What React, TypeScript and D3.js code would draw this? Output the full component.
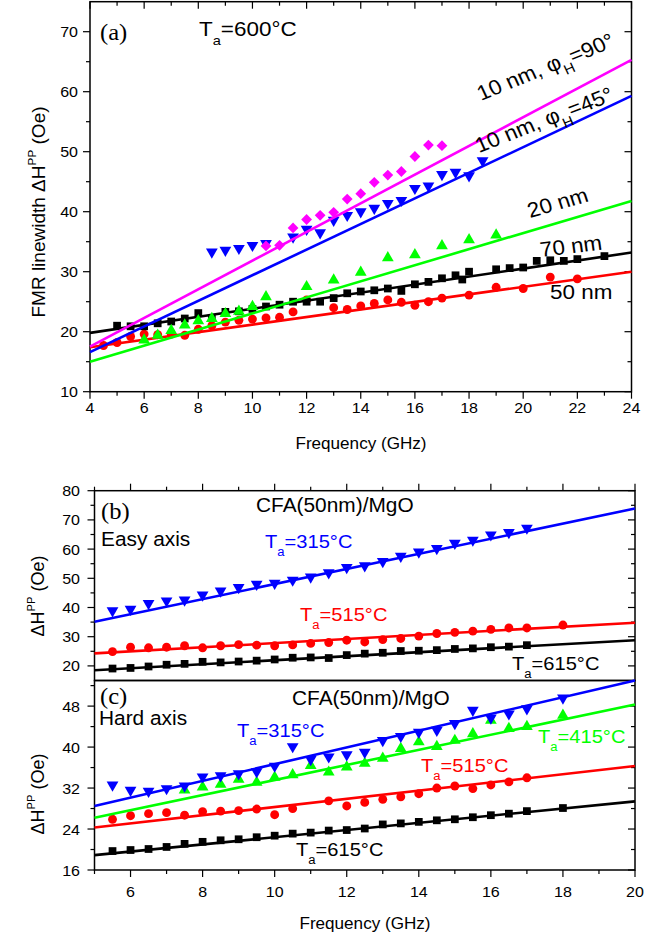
import React from 'react';
import * as d3 from 'd3';

const SANS = '"Liberation Sans", Arial, Helvetica, sans-serif';
const SERIF = '"Liberation Serif", "Times New Roman", serif';
const SX = 1.07;

// ---------- Panel (a) data ----------
const aFreq70 = [5, 5.5, 6, 6.5, 7, 7.5, 8, 8.5, 9, 9.5, 10, 10.5, 11, 11.5, 12, 12.5, 13, 13.5, 14, 14.5, 15, 15.5, 16, 16.5, 17, 17.5, 17.75, 18, 19, 19.5, 20, 20.5, 21, 21.5, 22, 23];
const aVal70 = [21.0, 20.9, 20.9, 21.4, 21.7, 22.2, 23.1, 22.3, 23.3, 23.4, 23.8, 24.2, 24.5, 25.0, 25.0, 25.0, 25.6, 26.4, 26.7, 26.9, 27.2, 26.8, 27.9, 28.3, 28.9, 29.4, 28.7, 30.0, 30.4, 30.6, 30.7, 31.8, 31.9, 31.8, 32.1, 32.6];
const aFreq50 = [4.5, 5, 5.5, 6, 6.5, 7, 7.5, 8, 8.5, 9, 9.5, 10, 10.5, 11, 11.5, 12, 13, 13.5, 14, 14.5, 15, 15.5, 16, 16.5, 17, 18, 19, 20, 21, 22];
const aVal50 = [17.7, 18.2, 19.2, 19.6, 19.5, 19.6, 19.4, 20.4, 21.0, 21.6, 21.9, 22.1, 22.3, 22.4, 23.3, 25.3, 24.0, 23.7, 24.3, 24.7, 25.3, 24.9, 24.4, 25.0, 25.6, 26.1, 27.4, 27.2, 29.1, 28.8];
const aFreq20 = [6, 6.5, 7, 7.5, 8, 8.5, 9, 9.5, 10, 10.5, 12, 13, 14, 15, 16, 17, 18, 19];
const aVal20 = [18.6, 19.4, 20.2, 21.1, 21.8, 22.2, 23.0, 23.4, 24.2, 25.8, 27.5, 28.6, 29.9, 32.3, 32.8, 34.3, 35.3, 36.1];
const aFreq45 = [8.5, 9, 9.5, 10, 10.5, 11.5, 12, 12.5, 13, 13.5, 14, 14.5, 15, 15.5, 16, 16.5, 17, 17.5, 18, 18.5];
const aVal45 = [33.3, 33.6, 33.9, 34.4, 34.7, 35.8, 37.1, 36.5, 38.6, 39.4, 40.0, 40.6, 41.4, 41.9, 43.9, 44.3, 46.2, 46.6, 46.0, 48.5];
const aFreq90 = [10.5, 11, 11.5, 12, 12.5, 13, 13.5, 14, 14.5, 15, 15.5, 16, 16.5, 17];
const aVal90 = [34.3, 34.4, 37.3, 38.7, 39.4, 39.9, 42.1, 43.0, 44.9, 46.1, 46.7, 49.2, 51.1, 51.0];
const aFitRange = [4, 24];
const aFit90 = [17.5, 65.3];
const aFit45 = [16.6, 59.3];
const aFit20 = [15.0, 41.8];
const aFit70 = [19.8, 33.2];
const aFit50 = [17.4, 30.0];
const aXTicks = [4, 6, 8, 10, 12, 14, 16, 18, 20, 22, 24];
const aXMinor = [5, 7, 9, 11, 13, 15, 17, 19, 21, 23];
const aYTicks = [10, 20, 30, 40, 50, 60, 70];
const aYMinor = [15, 25, 35, 45, 55, 65];

// ---------- Panel (b) data ----------
const bFreqBlue = [5.5, 6, 6.5, 7, 7.5, 8, 8.5, 9, 9.5, 10, 10.5, 11, 11.5, 12, 12.5, 13, 13.5, 14, 14.5, 15, 15.5, 16, 16.5, 17];
const bValBlue = [38.9, 39.4, 41.4, 42.3, 42.6, 44.3, 45.7, 46.9, 48.0, 48.3, 49.4, 50.5, 51.9, 53.7, 54.3, 55.8, 57.6, 59.0, 60.2, 62.0, 63.1, 64.9, 65.7, 67.2];
const bFreqRed = [5.5, 6, 6.5, 7, 7.5, 8, 8.5, 9, 9.5, 10, 10.5, 11, 11.5, 12, 12.5, 13, 13.5, 14, 14.5, 15, 15.5, 16, 16.5, 17, 18];
const bValRed = [24.9, 26.4, 26.2, 26.4, 26.9, 26.2, 26.9, 27.3, 27.1, 26.9, 27.2, 27.7, 28.0, 28.8, 28.2, 29.0, 29.4, 30.2, 31.1, 31.5, 31.9, 32.5, 33.0, 33.0, 34.0];
const bFreqBlack = [5.5, 6, 6.5, 7, 7.5, 8, 8.5, 9, 9.5, 10, 10.5, 11, 11.5, 12, 12.5, 13, 13.5, 14, 14.5, 15, 15.5, 16, 16.5, 17];
const bValBlack = [19.1, 19.3, 19.8, 20.4, 20.7, 21.4, 21.2, 21.5, 21.8, 22.2, 22.8, 22.9, 22.7, 23.7, 24.2, 24.5, 25.1, 25.2, 25.4, 25.8, 26.0, 26.4, 26.6, 27.1];
const bcFitRange = [5, 20];
const bFitBlue = [35.1, 73.9];
const bFitRed = [24.3, 34.8];
const bFitBlack = [18.5, 28.8];
const bYTicks = [20, 30, 40, 50, 60, 70, 80];
const bYMinor = [25, 35, 45, 55, 65, 75];

// ---------- Panel (c) data ----------
const cFreqBlue = [5.5, 6, 6.5, 7, 7.5, 8, 8.5, 9, 9.5, 10, 10.5, 11, 11.5, 12, 12.5, 13, 13.5, 14, 14.5, 15, 15.5, 16, 16.5, 17, 18];
const cValBlue = [32.6, 31.6, 31.4, 31.9, 32.4, 34.2, 34.4, 34.8, 35.2, 36.3, 40.1, 37.6, 38.1, 38.5, 39.0, 41.3, 42.1, 42.9, 43.3, 44.6, 47.2, 45.7, 46.5, 47.5, 49.6];
const cFreqGreen = [7.5, 8, 8.5, 9, 9.5, 10, 10.5, 11, 11.5, 12, 12.5, 13, 13.5, 14, 14.5, 15, 15.5, 16, 16.5, 17, 18];
const cValGreen = [31.6, 32.2, 32.7, 33.7, 33.1, 34.1, 34.6, 36.4, 35.1, 36.1, 36.8, 37.8, 39.7, 41.0, 40.1, 41.3, 42.6, 45.2, 43.6, 44.0, 46.2];
const cFreqRed = [5.5, 6, 6.5, 7, 7.5, 8, 8.5, 9, 9.5, 10, 10.5, 11.5, 12, 12.5, 13, 13.5, 14, 14.5, 15, 15.5, 16, 16.5, 17];
const cValRed = [25.9, 26.6, 27.0, 27.2, 26.7, 27.4, 27.5, 27.6, 27.9, 26.8, 28.0, 29.5, 28.5, 29.2, 29.8, 30.3, 30.9, 32.0, 32.4, 31.9, 32.6, 33.2, 34.0];
const cFreqBlack = [5.5, 6, 6.5, 7, 7.5, 8, 8.5, 9, 9.5, 10, 10.5, 11, 11.5, 12, 12.5, 13, 13.5, 14, 14.5, 15, 15.5, 16, 16.5, 17, 18];
const cValBlack = [19.7, 19.9, 20.1, 20.5, 21.1, 21.5, 21.8, 22.0, 22.4, 22.7, 23.1, 23.3, 23.7, 23.8, 24.1, 24.9, 25.1, 25.4, 25.7, 25.9, 26.3, 26.7, 27.0, 27.5, 28.1];
const cFitBlue = [28.5, 53.0];
const cFitGreen = [26.2, 48.3];
const cFitRed = [24.3, 36.3];
const cFitBlack = [18.9, 29.4];
const cYTicks = [16, 24, 32, 40, 48];
const cYMinor = [20, 28, 36, 44, 52];
const bcXTicks = [6, 8, 10, 12, 14, 16, 18, 20];
const bcXMinor = [5, 7, 9, 11, 13, 15, 17, 19];

const BLACK = '#000000';
const RED = '#ff0000';
const GREEN = '#00ff00';
const BLUE = '#0000ff';
const MAGENTA = '#ff00ff';

// ---------- scales ----------
const xA = d3.scaleLinear().domain([4, 24]).range([90, 631.5]);
const yA = d3.scaleLinear().domain([10, 75]).range([391.7, 1.7]);
const xBC = d3.scaleLinear().domain([5, 20]).range([94.5, 635]);
const yB = d3.scaleLinear().domain([15, 80]).range([680.5, 490.7]);
const yC = d3.scaleLinear().domain([16, 53]).range([870, 680.5]);

const symPath: Record<string, string> = {
  square: d3.symbol().type(d3.symbolSquare).size(60)() as string,
  circle: d3.symbol().type(d3.symbolCircle).size(62)() as string,
  triUp: d3.symbol().type(d3.symbolTriangle).size(60)() as string,
  triDown: d3.symbol().type(d3.symbolTriangle).size(60)() as string,
  diamond: d3.symbol().type(d3.symbolSquare).size(58)() as string,
};
const symRot: Record<string, string> = { triDown: ' rotate(180)', diamond: ' rotate(45)' };

const MAJ = 7;
const MIN = 4;

function Txt(props: any) {
  const { x, y, size, fill = BLACK, anchor = 'start', rot = 0, family = SANS, sx = SX, children } = props;
  const r = rot ? (Math.atan(Math.tan((rot * Math.PI) / 180) / sx) * 180) / Math.PI : 0;
  return (
    <text
      transform={`translate(${x},${y}) scale(${sx},1)${r ? ` rotate(${r})` : ''}`}
      fontSize={size}
      fill={fill}
      textAnchor={anchor}
      fontFamily={family}
    >
      {children}
    </text>
  );
}

function TaLabel({ x, y, size, fill, temp }: any) {
  return (
    <Txt x={x} y={y} size={size} fill={fill}>
      T
      <tspan fontSize={size * 0.65} dy={size * 0.42}>a</tspan>
      <tspan dy={-size * 0.42}>={temp}°C</tspan>
    </Txt>
  );
}

function Series({ f, v, xs, ys, shape, color, fit, fitRange }: any) {
  const line = d3.line<number[]>().x((d) => xs(d[0])).y((d) => ys(d[1]));
  const fitPts = [
    [fitRange[0], fit[0]],
    [fitRange[1], fit[1]],
  ];
  return (
    <g>
      <path d={line(fitPts) as string} stroke={color} strokeWidth={2.6} fill="none" />
      {f.map((fr: number, i: number) => (
        <path
          key={i}
          d={symPath[shape]}
          transform={`translate(${xs(fr)},${ys(v[i])})${symRot[shape] || ''}`}
          fill={color}
        />
      ))}
    </g>
  );
}

function Frame({ xs, ys, xMaj, xMin, yMaj, yMin, bottomOut, topOut, topIn, xLabels, yLabels, xLabelY, yLabelX }: any) {
  const [x0, x1] = xs.range();
  const [y0, y1] = ys.range();
  const els: any[] = [];
  const tick = (key: string, a: number, b: number, c: number, d: number) =>
    els.push(<line key={key} x1={a} y1={b} x2={c} y2={d} stroke={BLACK} strokeWidth={1.2} />);
  xMaj.forEach((t: number) => {
    const x = xs(t);
    if (bottomOut) tick('bM' + t, x, y0, x, y0 + MAJ);
    if (topOut) tick('tM' + t, x, y1, x, y1 - MAJ);
    if (topIn) tick('tI' + t, x, y1, x, y1 + MAJ);
  });
  xMin.forEach((t: number) => {
    const x = xs(t);
    if (bottomOut) tick('bm' + t, x, y0, x, y0 + MIN);
    if (topOut) tick('tm' + t, x, y1, x, y1 - MIN);
    if (topIn) tick('ti' + t, x, y1, x, y1 + MIN);
  });
  yMaj.forEach((t: number) => {
    const y = ys(t);
    tick('lM' + t, x0, y, x0 - MAJ, y);
    tick('rM' + t, x1, y, x1 - MAJ, y);
  });
  yMin.forEach((t: number) => {
    const y = ys(t);
    tick('lm' + t, x0, y, x0 - MIN, y);
    tick('rm' + t, x1, y, x1 - MIN, y);
  });
  return (
    <g>
      <rect x={x0} y={y1} width={x1 - x0} height={y0 - y1} fill="none" stroke={BLACK} strokeWidth={1.5} />
      {els}
      {xLabels &&
        xMaj.map((t: number) => (
          <Txt key={'xl' + t} x={xs(t)} y={xLabelY} size={15} anchor="middle">
            {t}
          </Txt>
        ))}
      {yLabels &&
        yMaj.map((t: number) => (
          <Txt key={'yl' + t} x={yLabelX} y={ys(t) + 5.5} size={15} anchor="end">
            {t}
          </Txt>
        ))}
    </g>
  );
}

function DeltaH({ x, y, size, prefix }: any) {
  return (
    <text transform={`translate(${x},${y}) rotate(-90)`} fontSize={size} fontFamily={SANS} textAnchor="middle" fill={BLACK}>
      {prefix}ΔH
      <tspan fontSize={size * 0.62} dy={-size * 0.5}>PP</tspan>
      <tspan dy={size * 0.5}> (Oe)</tspan>
    </text>
  );
}

export default function App() {
  return (
    <svg width={662} height={940} style={{ position: 'absolute', left: 0, top: 0, background: '#fff' }}>
      <rect x={0} y={0} width={662} height={940} fill="#fff" />
      {/* ---------------- Panel (a) ---------------- */}
      <Frame xs={xA} ys={yA} xMaj={aXTicks} xMin={aXMinor} yMaj={aYTicks} yMin={aYMinor} bottomOut topIn xLabels yLabels xLabelY={413} yLabelX={78} />
      <Series f={aFreq50} v={aVal50} xs={xA} ys={yA} shape="circle" color={RED} fit={aFit50} fitRange={aFitRange} />
      <Series f={aFreq70} v={aVal70} xs={xA} ys={yA} shape="square" color={BLACK} fit={aFit70} fitRange={aFitRange} />
      <Series f={aFreq20} v={aVal20} xs={xA} ys={yA} shape="triUp" color={GREEN} fit={aFit20} fitRange={aFitRange} />
      <Series f={aFreq45} v={aVal45} xs={xA} ys={yA} shape="triDown" color={BLUE} fit={aFit45} fitRange={aFitRange} />
      <Series f={aFreq90} v={aVal90} xs={xA} ys={yA} shape="diamond" color={MAGENTA} fit={aFit90} fitRange={aFitRange} />
      <Txt x={100} y={40} size={23} family={SERIF}>(a)</Txt>
      <TaLabel x={199} y={36} size={21} fill={BLACK} temp={600} />
      <Txt x={481} y={101} size={21} rot={-25}>
        10 nm, φ<tspan fontSize={14} dy={8}>H</tspan>
        <tspan dy={-8}>=90°</tspan>
      </Txt>
      <Txt x={479} y={153} size={21} rot={-24}>
        10 nm, φ<tspan fontSize={14} dy={8}>H</tspan>
        <tspan dy={-8}>=45°</tspan>
      </Txt>
      <Txt x={530} y={218} size={21} rot={-18}>20 nm</Txt>
      <Txt x={541} y={257} size={21} rot={-8}>70 nm</Txt>
      <Txt x={550} y={299} size={21}>50 nm</Txt>
      <Txt x={361} y={449} size={16} anchor="middle">Frequency (GHz)</Txt>
      <DeltaH x={45} y={212} size={19} prefix="FMR linewidth " />

      {/* ---------------- Panel (b) ---------------- */}
      <Frame xs={xBC} ys={yB} xMaj={bcXTicks} xMin={bcXMinor} yMaj={bYTicks} yMin={bYMinor} topOut yLabels yLabelX={80} />
      <Series f={bFreqBlack} v={bValBlack} xs={xBC} ys={yB} shape="square" color={BLACK} fit={bFitBlack} fitRange={bcFitRange} />
      <Series f={bFreqRed} v={bValRed} xs={xBC} ys={yB} shape="circle" color={RED} fit={bFitRed} fitRange={bcFitRange} />
      <Series f={bFreqBlue} v={bValBlue} xs={xBC} ys={yB} shape="triDown" color={BLUE} fit={bFitBlue} fitRange={bcFitRange} />
      <Txt x={101} y={519} size={23} family={SERIF}>(b)</Txt>
      <Txt x={101} y={546} size={19.5}>Easy axis</Txt>
      <Txt x={256} y={512} size={19.5}>CFA(50nm)/MgO</Txt>
      <TaLabel x={265} y={548} size={18.8} fill={BLUE} temp={315} />
      <TaLabel x={300} y={621} size={18.8} fill={RED} temp={515} />
      <TaLabel x={512} y={670} size={18.8} fill={BLACK} temp={615} />
      <DeltaH x={44} y={596} size={18} prefix="" />

      {/* ---------------- Panel (c) ---------------- */}
      <Frame xs={xBC} ys={yC} xMaj={bcXTicks} xMin={bcXMinor} yMaj={cYTicks} yMin={cYMinor} bottomOut xLabels yLabels xLabelY={897} yLabelX={80} />
      <Series f={cFreqBlack} v={cValBlack} xs={xBC} ys={yC} shape="square" color={BLACK} fit={cFitBlack} fitRange={bcFitRange} />
      <Series f={cFreqRed} v={cValRed} xs={xBC} ys={yC} shape="circle" color={RED} fit={cFitRed} fitRange={bcFitRange} />
      <Series f={cFreqGreen} v={cValGreen} xs={xBC} ys={yC} shape="triUp" color={GREEN} fit={cFitGreen} fitRange={bcFitRange} />
      <Series f={cFreqBlue} v={cValBlue} xs={xBC} ys={yC} shape="triDown" color={BLUE} fit={cFitBlue} fitRange={bcFitRange} />
      <Txt x={100} y={704} size={23} family={SERIF}>(c)</Txt>
      <Txt x={99} y={725} size={19.5}>Hard axis</Txt>
      <Txt x={292} y={705} size={19.5}>CFA(50nm)/MgO</Txt>
      <TaLabel x={237} y={737} size={18.8} fill={BLUE} temp={315} />
      <TaLabel x={538} y={743} size={18.8} fill={GREEN} temp={415} />
      <TaLabel x={421} y={772} size={18.8} fill={RED} temp={515} />
      <TaLabel x={296} y={856} size={18.8} fill={BLACK} temp={615} />
      <Txt x={365} y={929} size={16} anchor="middle">Frequency (GHz)</Txt>
      <DeltaH x={44} y={794} size={18} prefix="" />
    </svg>
  );
}
